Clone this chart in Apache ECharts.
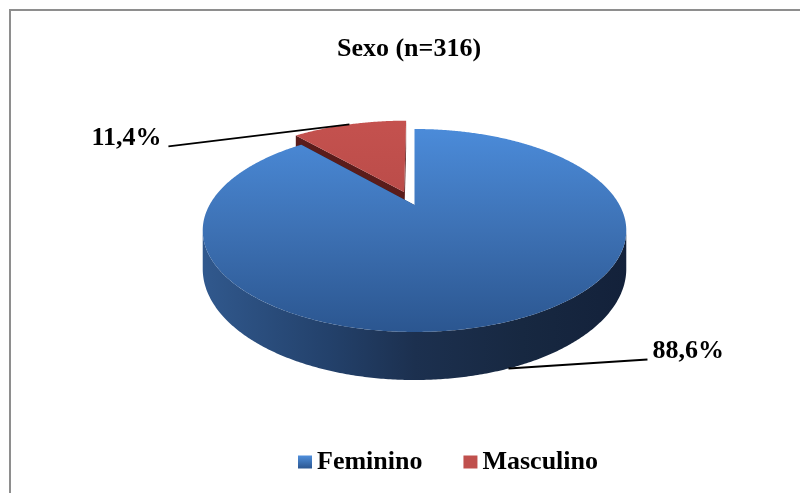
<!DOCTYPE html>
<html>
<head>
<meta charset="utf-8">
<script src="https://cdn.jsdelivr.net/npm/echarts/dist/echarts.min.js"></script>
<style>
  html, body { margin: 0; padding: 0; background: #fff; }
  #chart { width: 800px; height: 493px; }
</style>
</head>
<body>
<div id="chart"></div>
<script>
// Distribution by sex, n = 316
const categories = ['Feminino', 'Masculino'];
const percentages = [88.6, 11.4];
const percentLabels = ['88,6%', '11,4%'];

// --- 3D pie geometry (perspective-projected disc) ---
const CX = 414.5, CY = 205;      // projected centre of the top face
const RX = 205, RY = 95.1;       // radii before perspective
const PERSP = 0.251;             // perspective strength (front is larger)
const THICK = 36;                // depth of the pie body
const EXPLODE = [0, 0.15];       // radial offset of each slice
const FONT = 'bold 26px "Liberation Serif", "Times New Roman", serif';

function proj(u, v, h) {
  const s = 1 / (1 - PERSP * v);
  return [CX + RX * u * s, CY + RY * v * s + h * THICK * s];
}

const total = percentages.reduce((a, b) => a + b, 0);
function sliceAngles(i) {
  let start = 0;
  for (let j = 0; j < i; j++) start += percentages[j] / total * Math.PI * 2;
  return [start, start + percentages[i] / total * Math.PI * 2];
}

// visible part of the outer wall (between the two silhouette points)
const FRONT_A = Math.acos(-PERSP);
const FRONT_B = Math.PI * 2 - FRONT_A;

// back slices are painted first
const depthRank = categories.map((c, i) => {
  const a = sliceAngles(i);
  return -Math.cos((a[0] + a[1]) / 2);
});
const order = depthRank.map((v, i) => i).sort((a, b) => depthRank[a] - depthRank[b]);

const topFill = [
  new echarts.graphic.LinearGradient(0, 129, 0, 332, [
    { offset: 0, color: '#4b8bd9' },
    { offset: 0.5, color: '#3d71b4' },
    { offset: 1, color: '#2b5690' }
  ], true),
  new echarts.graphic.LinearGradient(0, 115, 0, 210, [
    { offset: 0, color: '#c5524f' },
    { offset: 1, color: '#b94b48' }
  ], true)
];
const wallFill = [
  new echarts.graphic.LinearGradient(200, 0, 630, 0, [
    { offset: 0, color: '#31598e' },
    { offset: 0.3, color: '#23416b' },
    { offset: 0.5, color: '#1c304f' },
    { offset: 0.75, color: '#172841' },
    { offset: 1, color: '#13213a' }
  ], true),
  '#6a2523'
];
const faceFill = ['#1d3557', '#5a1c1b'];
const legendColor = [
  new echarts.graphic.LinearGradient(0, 0, 0, 1, [
    { offset: 0, color: '#4f8fdc' },
    { offset: 1, color: '#2b5690' }
  ]),
  '#c0504d'
];

// leader line end and text placement relative to the slice anchor
const labelOffset = [
  { dx: 139, dy: -9, align: 'left' },
  { dx: -181, dy: 22, align: 'right' }
];

function makeRender(i) {
  return function (params, api) {
    const [a0, a1] = sliceAngles(i);
    const mid = (a0 + a1) / 2;
    const ou = EXPLODE[i] * Math.sin(mid);
    const ov = -EXPLODE[i] * Math.cos(mid);
    const rim = (t, r, h) => proj(ou + r * Math.sin(t), ov - r * Math.cos(t), h);
    const rank = order.indexOf(i);
    const children = [];
    const step = Math.PI / 360;

    // radial cut faces
    [a0, a1].forEach(t => {
      children.push({
        type: 'polygon', z2: 1 + rank,
        shape: { points: [rim(t, 0, 0), rim(t, 1, 0), rim(t, 1, 1), rim(t, 0, 1)] },
        style: { fill: faceFill[i] }
      });
    });

    // outer wall (front part only)
    const lo = Math.max(a0, FRONT_A), hi = Math.min(a1, FRONT_B);
    if (lo < hi) {
      const upper = [], lower = [];
      for (let t = lo; t < hi; t += step) { upper.push(rim(t, 1, 0)); lower.push(rim(t, 1, 1)); }
      upper.push(rim(hi, 1, 0)); lower.push(rim(hi, 1, 1));
      children.push({
        type: 'polygon', z2: 5 + rank,
        shape: { points: upper.concat(lower.reverse()) },
        style: { fill: wallFill[i] }
      });
    }

    // top face
    const top = [rim(0, 0, 0)];
    for (let t = a0; t < a1; t += step) top.push(rim(t, 1, 0));
    top.push(rim(a1, 1, 0));
    children.push({
      type: 'polygon', z2: 20 + rank,
      shape: { points: top },
      style: { fill: topFill[i] }
    });

    // percentage label with leader line
    const front = -Math.cos(mid) > 0;
    const anchor = rim(mid, 1, front ? 1 : 0);
    const lo2 = labelOffset[i];
    const end = [anchor[0] + lo2.dx, anchor[1] + lo2.dy];
    children.push({
      type: 'polyline', z2: 50,
      shape: { points: [anchor, end] },
      style: { stroke: '#000', lineWidth: 2, fill: null }
    });
    children.push({
      type: 'text', z2: 51,
      style: {
        text: percentLabels[i],
        x: end[0] + (lo2.align === 'left' ? 5 : -7),
        y: end[1] - 8,
        font: FONT,
        fill: '#000',
        align: lo2.align, textAlign: lo2.align,
        verticalAlign: 'middle', textVerticalAlign: 'middle'
      }
    });

    return { type: 'group', children: children };
  };
}

const chart = echarts.init(document.getElementById('chart'), null, { renderer: 'canvas' });
chart.setOption({
  animation: false,
  backgroundColor: '#fff',
  title: {
    text: 'Sexo (n=316)',
    left: 404, top: 31, textAlign: 'center',
    textStyle: { fontFamily: '"Liberation Serif", "Times New Roman", serif', fontWeight: 'bold', fontSize: 26, color: '#000' }
  },
  legend: {
    data: categories,
    left: 293, top: 444,
    icon: 'rect', itemWidth: 14, itemHeight: 13, itemGap: 41,
    textStyle: { fontFamily: '"Liberation Serif", "Times New Roman", serif', fontWeight: 'bold', fontSize: 26, color: '#000' }
  },
  graphic: [{
    type: 'rect', silent: true, z: -10,
    shape: { x: 10, y: 10, width: 800, height: 500 },
    style: { fill: null, stroke: '#8e8e8e', lineWidth: 2 }
  }],
  series: categories.map((name, i) => ({
    type: 'custom',
    name: name,
    coordinateSystem: 'none',
    itemStyle: { color: legendColor[i] },
    data: [[percentages[i]]],
    renderItem: makeRender(i)
  }))
});
</script>
</body>
</html>
